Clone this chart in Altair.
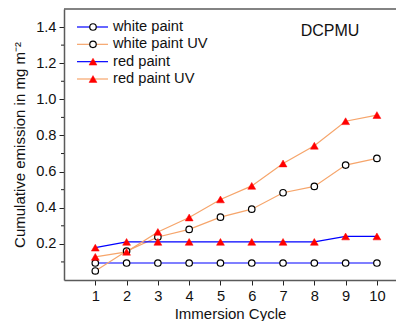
import altair as alt
import pandas as pd

# ---- data ----
cycles = [1, 2, 3, 4, 5, 6, 7, 8, 9, 10]
white_paint = [0.094, 0.094, 0.094, 0.094, 0.094, 0.094, 0.094, 0.094, 0.094, 0.094]
white_paint_uv = [0.050, 0.160, 0.238, 0.280, 0.348, 0.392, 0.483, 0.518, 0.636, 0.673]
red_paint = [0.179, 0.211, 0.211, 0.211, 0.211, 0.211, 0.211, 0.211, 0.241, 0.241]
red_paint_uv = [0.128, 0.156, 0.266, 0.346, 0.446, 0.521, 0.645, 0.743, 0.879, 0.913]

series_names = ["white paint", "white paint UV", "red paint", "red paint UV"]
series_values = [white_paint, white_paint_uv, red_paint, red_paint_uv]
line_colors = ["#0000ff", "#f6a56b", "#0000ff", "#f6a56b"]
marker_kind = ["circle", "circle", "triangle", "triangle"]

y_ticks = [0.2, 0.4, 0.6, 0.8, 1.0, 1.2, 1.4]
y_minor = [0.1, 0.3, 0.5, 0.7, 0.9, 1.1, 1.3]
x_ticks = cycles
annotation = "DCPMU"

FONT = "Liberation Sans"
W, H = 332, 271
X_MAX = 10.61

rows = []
for i, (name, vals) in enumerate(zip(series_names, series_values)):
    for c, v in zip(cycles, vals):
        rows.append({"series": name, "cycle": c, "value": v, "kind": marker_kind[i]})
df = pd.DataFrame(rows)
legend_df = pd.DataFrame({"series": series_names, "kind": marker_kind,
                          "row": list(range(len(series_names)))})

xs = alt.Scale(domain=[0, X_MAX], nice=False, zero=False)
ys = alt.Scale(domain=[0, 1.5], nice=False, zero=False)
color = alt.Color("series:N", scale=alt.Scale(domain=series_names, range=line_colors), legend=None)

x_axis = alt.Axis(
    values=x_ticks, title="Immersion Cycle", format="d", labelOverlap=False,
    labelPadding=3, titleY=33, titleBaseline="middle")
y_axis = alt.Axis(
    values=y_ticks, format=".1f", title="Cumulative emission in mg m\u207b\u00b2",
    labelOverlap=False, labelPadding=3, titleX=-45, titleY=H / 2, titleAngle=-90,
    titleAlign="center", titleBaseline="middle")

xq = alt.X("cycle:Q", scale=xs, axis=x_axis)
yq = alt.Y("value:Q", scale=ys, axis=y_axis)

top_rule = alt.Chart(pd.DataFrame({"a": [0]})).mark_rule(
    color="#5a5a5a", strokeWidth=1.5).encode(
    x=alt.value(0), x2=alt.value(W), y=alt.value(0))

minor = alt.Chart(pd.DataFrame({"value": y_minor})).mark_rule(
    color="#222222", strokeWidth=1).encode(
    y=yq, x=alt.value(-3), x2=alt.value(0))

lines = alt.Chart(df).mark_line(strokeWidth=1.2).encode(
    x=xq, y=yq, color=color, detail="series:N", order="cycle:Q")

circles = alt.Chart(df[df["kind"] == "circle"]).mark_point(
    shape="circle", size=42, fill="#ffffff", stroke="#000000",
    strokeWidth=1.2, opacity=1, filled=False, fillOpacity=1).encode(x=xq, y=yq)

triangles = alt.Chart(df[df["kind"] == "triangle"]).mark_point(
    shape="triangle-up", size=62, fill="#ff0000", stroke="#ff0000",
    strokeWidth=0.5, opacity=1, filled=True).encode(x=xq, y=yq)

label = alt.Chart(pd.DataFrame({"t": [annotation]})).mark_text(
    font=FONT, fontSize=16, color="#111111", align="center", baseline="middle").encode(
    x=alt.value(266), y=alt.value(22), text="t:N")

main = alt.layer(lines, top_rule, minor, circles, triangles, label)

ly = alt.Y("row:Q", scale=alt.Scale(domain=[0, 3], range=[18, 70], nice=False, zero=False), axis=None)
leg_rule = alt.Chart(legend_df).mark_rule(strokeWidth=1.2).encode(
    x=alt.value(13), x2=alt.value(44), y=ly, color=color)
leg_circ = alt.Chart(legend_df[legend_df["kind"] == "circle"]).mark_point(
    shape="circle", size=42, fill="#ffffff", stroke="#000000",
    strokeWidth=1.2, opacity=1, filled=False, fillOpacity=1).encode(
    x=alt.value(29), y=ly)
leg_tri = alt.Chart(legend_df[legend_df["kind"] == "triangle"]).mark_point(
    shape="triangle-up", size=62, fill="#ff0000", stroke="#ff0000",
    strokeWidth=0.5, opacity=1, filled=True).encode(
    x=alt.value(29), y=ly)
leg_text = alt.Chart(legend_df).mark_text(
    font=FONT, fontSize=14.67, color="#111111", align="left", baseline="middle").encode(
    x=alt.value(49), y=ly, text="series:N")
legend = alt.layer(leg_rule, leg_circ, leg_tri, leg_text)

chart = alt.layer(main, legend).resolve_scale(y="independent").properties(
    width=W, height=H,
    autosize=alt.AutoSizeParams(type="none"),
    padding={"left": 56, "top": 1, "right": 0, "bottom": 41},
    background="#ffffff",
).configure_view(stroke=None).configure_axis(
    grid=False, domainColor="#5a5a5a", domainWidth=1.5, labelOverlap=False,
    tickColor="#222222", tickSize=5, tickWidth=1,
    labelFont=FONT, labelFontSize=14.67, labelColor="#111111",
    titleFont=FONT, titleFontSize=15, titleFontWeight="normal", titleColor="#111111",
)

chart.save("out.html", embed_options={"renderer": "svg", "actions": False})
